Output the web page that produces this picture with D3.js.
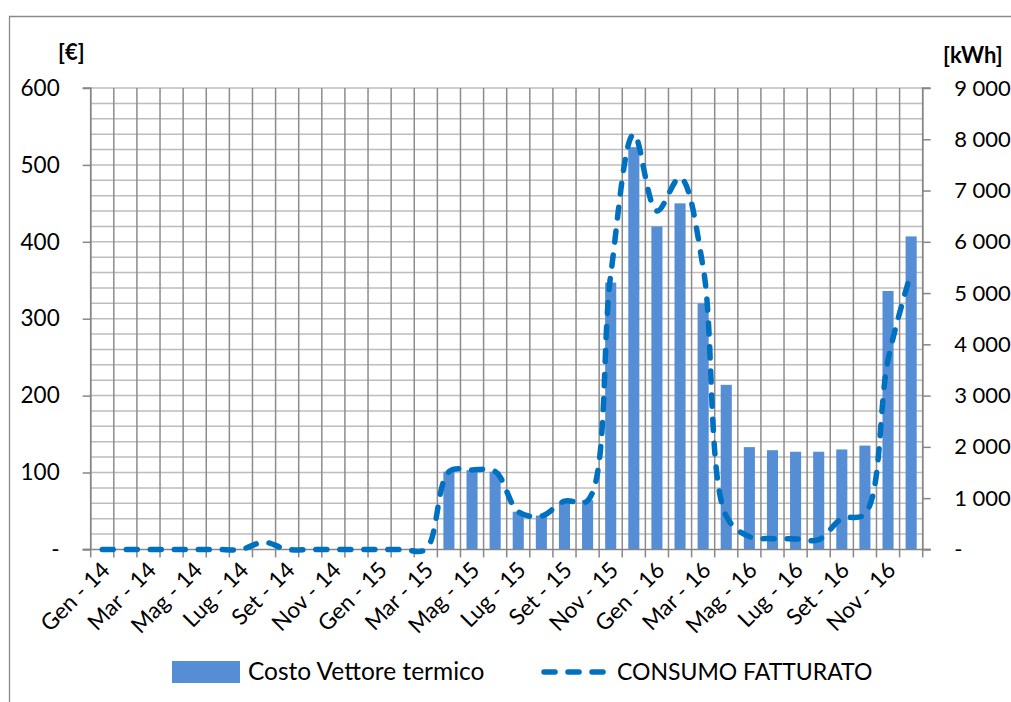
<!DOCTYPE html>
<html>
<head>
<meta charset="utf-8">
<script src="https://cdn.jsdelivr.net/npm/d3@7"></script>
<style>
  html, body { margin: 0; padding: 0; background: #fff; }
  svg { display: block; font-family: Lato, "Open Sans", sans-serif; }
</style>
</head>
<body>
<svg id="chart" width="1011" height="702"></svg>
<script>
// Monthly billing, Jan 2014 – Dec 2016
const monthNames = ["Gen", "Feb", "Mar", "Apr", "Mag", "Giu", "Lug", "Ago", "Set", "Ott", "Nov", "Dic"];
const years = ["14", "15", "16"];
const months = years.flatMap(y => monthNames.map(m => `${m} - ${y}`));

// Costo Vettore termico [€]
const costo = [
  0, 0, 0, 0, 0, 0, 0, 0, 0, 0, 0, 0,
  0, 0, 0, 101, 103, 101, 49, 44, 62, 64, 347, 523,
  420, 450, 320, 214, 133, 129, 127, 127, 130, 135, 336, 407
];

// CONSUMO FATTURATO [kWh]
const consumo = [
  0, 0, 0, 0, 0, 0, 0, 140, 0, 0, 0, 0,
  0, 0, 0, 1515, 1550, 1520, 735, 650, 940, 950, 5350, 8100,
  6600, 7250, 5500, 650, 250, 210, 205, 190, 600, 690, 3700, 5400
];

const costTicks = [0, 100, 200, 300, 400, 500, 600];
const kwhTicks = [0, 1000, 2000, 3000, 4000, 5000, 6000, 7000, 8000, 9000];
const legendLabels = ["Costo Vettore termico", "CONSUMO FATTURATO"];

const barColor = "#558ED5";
const lineColor = "#0070C0";
const gridV = "#8c8c8c";
const gridH = "#bdbdbd";
const axisColor = "#868686";

const svg = d3.select("#chart");
const plot = { left: 90.7, right: 922.7, top: 88, bottom: 549.4 };

const x = d3.scaleBand().domain(months).range([plot.left, plot.right]).padding(0);
const yCost = d3.scaleLinear().domain([0, 600]).range([plot.bottom, plot.top]);
const yKwh = d3.scaleLinear().domain([0, 9000]).range([plot.bottom, plot.top]);

// outer frame
svg.append("path")
  .attr("d", "M9.5,702 V16.5 H1011")
  .attr("fill", "none").attr("stroke", "#8a8a8a").attr("stroke-width", 1.3);

// horizontal gridlines every 20 €
const g = svg.append("g");
g.selectAll("line.h")
  .data(d3.range(20, 601, 20))
  .join("line")
  .attr("x1", plot.left).attr("x2", plot.right)
  .attr("y1", d => yCost(d)).attr("y2", d => yCost(d))
  .attr("stroke", gridH).attr("stroke-width", 1.5);

// vertical gridlines at each month boundary
const bounds = months.map(m => x(m)).concat([plot.right]);
g.selectAll("line.v")
  .data(bounds)
  .join("line")
  .attr("x1", d => d).attr("x2", d => d)
  .attr("y1", plot.top).attr("y2", plot.bottom)
  .attr("stroke", gridV).attr("stroke-width", 1.5);

// bars
const barW = x.bandwidth() * 0.48;
svg.append("g").selectAll("rect")
  .data(months.map((m, i) => ({ m, v: costo[i] })).filter(d => d.v > 0))
  .join("rect")
  .attr("x", d => x(d.m) + (x.bandwidth() - barW) / 2)
  .attr("width", barW)
  .attr("y", d => yCost(d.v))
  .attr("height", d => yCost(0) - yCost(d.v))
  .attr("fill", barColor);

// left axis
const leftAxis = d3.axisLeft(yCost).tickValues(costTicks).tickSize(8)
  .tickFormat(d => d === 0 ? "-" : d3.format("d")(d));
const la = svg.append("g").attr("transform", `translate(${plot.left},0)`).call(leftAxis);
la.select(".domain").attr("stroke", axisColor).attr("stroke-width", 1.5).attr("d", `M-8,${plot.top}H0V${plot.bottom}H-8`);
la.selectAll(".tick line").attr("stroke", axisColor).attr("stroke-width", 1.5);
la.selectAll(".tick text").attr("x", -31).attr("font-size", 22.5).attr("fill", "#000")
  .attr("font-family", "Lato, sans-serif");

// right axis
const fmtK = d => d === 0 ? "-" : d3.format(",")(d).replace(/,/g, " ");
const rightAxis = d3.axisRight(yKwh).tickValues(kwhTicks).tickSize(8).tickFormat(fmtK);
const ra = svg.append("g").attr("transform", `translate(${plot.right},0)`).call(rightAxis);
ra.select(".domain").attr("stroke", axisColor).attr("stroke-width", 1.5).attr("d", `M8,${plot.top}H0V${plot.bottom}H8`);
ra.selectAll(".tick line").attr("stroke", axisColor).attr("stroke-width", 1.5);
ra.selectAll(".tick text").attr("x", 31.5).attr("font-size", 22).attr("fill", "#000")
  .attr("font-family", "Lato, sans-serif");

// bottom axis: ticks at every month boundary, labels every other month
const xa = svg.append("g");
xa.append("line")
  .attr("x1", plot.left - 8).attr("x2", plot.right + 8)
  .attr("y1", plot.bottom).attr("y2", plot.bottom)
  .attr("stroke", axisColor).attr("stroke-width", 1.5);
xa.selectAll("line.t")
  .data(bounds)
  .join("line")
  .attr("x1", d => d).attr("x2", d => d)
  .attr("y1", plot.bottom).attr("y2", plot.bottom + 8)
  .attr("stroke", axisColor).attr("stroke-width", 1.5);
xa.selectAll("text")
  .data(months.filter((m, i) => i % 2 === 0))
  .join("text")
  .attr("transform", d => `translate(${x(d) + x.bandwidth() / 2 + 9},${plot.bottom + 22}) rotate(-45)`)
  .attr("text-anchor", "end")
  .attr("font-size", 22.5)
  .attr("fill", "#000")
  .text(d => d);

// consumption line
const line = d3.line()
  .x((d, i) => x(months[i]) + x.bandwidth() / 2)
  .y(d => yKwh(d))
  .curve(d3.curveCatmullRom.alpha(0.5));
svg.append("path")
  .datum(consumo)
  .attr("d", line)
  .attr("fill", "none")
  .attr("stroke", lineColor)
  .attr("stroke-width", 5.5)
  .attr("stroke-linecap", "round")
  .attr("stroke-dasharray", "11 13");

// axis titles
svg.append("text").attr("x", 58).attr("y", 60).attr("font-size", 22).attr("font-weight", "bold").text("[€]");
svg.append("text").attr("x", 943).attr("y", 63).attr("font-size", 22).attr("font-weight", "bold").text("[kWh]");

// legend
const lg = svg.append("g");
lg.append("rect").attr("x", 172).attr("y", 661).attr("width", 68).attr("height", 22).attr("fill", barColor);
lg.append("text").attr("x", 248).attr("y", 680).attr("font-size", 24.5).text(legendLabels[0]);
lg.append("line").attr("x1", 544).attr("x2", 608).attr("y1", 672).attr("y2", 672)
  .attr("stroke", lineColor).attr("stroke-width", 5.5)
  .attr("stroke-linecap", "round").attr("stroke-dasharray", "11 13");
lg.append("text").attr("x", 617).attr("y", 680).attr("font-size", 23).text(legendLabels[1]);
</script>
</body>
</html>
